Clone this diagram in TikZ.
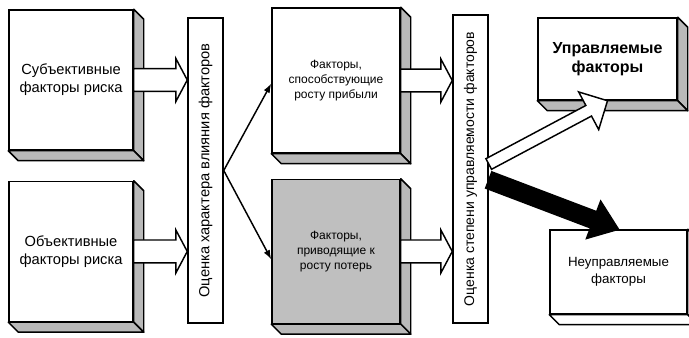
\documentclass[tikz,border=0pt]{standalone}
\usepackage{fontspec}
\setmainfont{Liberation Sans}
\usetikzlibrary{arrows.meta, positioning, calc}
\tikzset{
factor/.style={
    rectangle,
    draw,
    line width=1.1pt,
    fill=white,
    align=center,
    inner sep=2pt,
    font=\fontsize{11}{13.5}\selectfont
},
bar/.style={
    rectangle,
    draw,
    line width=1.1pt,
    fill=white,
    minimum width=26.25pt,
    inner sep=0pt
},
side/.style={draw, line width=1.1pt, line join=round},
block/.style={draw, line width=1.1pt, line join=miter}
}
% hollow/filled block arrow: fill, from, to, half shaft, half head, head length
\newcommand{\blockarrow}[6]{%
    \coordinate (ba-s) at (#2);
    \coordinate (ba-e) at (#3);
    \coordinate (ba-m) at ($(ba-e)!#6!(ba-s)$);
    \filldraw[block, fill=#1]
        ($(ba-s)!#4!90:(ba-e)$) -- ($(ba-m)!#4!-90:(ba-s)$) --
        ($(ba-m)!#5!-90:(ba-s)$) -- (ba-e) --
        ($(ba-m)!#5!90:(ba-s)$) -- ($(ba-m)!#4!90:(ba-s)$) --
        ($(ba-s)!#4!-90:(ba-e)$) -- cycle;
}

\begin{document}
\begin{tikzpicture}[
        x=0.75pt, y=-0.75pt,
        >={Latex[length=7pt, width=5pt]}
    ]
    \useasboundingbox (0,0) rectangle (689,338);

    % node placement
    \node[factor, minimum width=93pt, minimum height=105pt] (b1) at (71,80) {Субъективные\\факторы риска};
    \node[factor, minimum width=93pt, minimum height=105pt, below=22.5pt of b1] (b2) {Объективные\\факторы риска};

    \node[bar, minimum height=228.75pt, font=\fontsize{11}{13}\selectfont] (bar1) at (205.5,170.5)
        {\rotatebox{90}{Оценка характера влияния факторов}};

    \node[factor, minimum width=96pt, minimum height=108.75pt, font=\fontsize{9}{11.5}\selectfont] (b3) at (336,80.5)
        {Факторы,\\способствующие\\росту прибыли};
    \node[factor, minimum width=96pt, minimum height=108pt, fill=gray!50, font=\fontsize{9}{11.5}\selectfont, below=18.75pt of b3] (b4)
        {Факторы,\\приводящие к\\росту потерь};

    \node[bar, minimum height=231pt, font=\fontsize{10.5}{12}\selectfont] (bar2) at (470.5,169)
        {\rotatebox{90}{Оценка степени управляемости факторов}};

    \node[factor, minimum width=104.25pt, minimum height=61.5pt, font=\fontsize{12}{14.5}\selectfont\bfseries] (b5) at (607.5,59)
        {Управляемые\\факторы};
    \node[factor, minimum width=102.75pt, minimum height=63pt, font=\fontsize{10}{12.5}\selectfont] (b6) at (618.5,272)
        {Неуправляемые\\факторы};

    % box sides
    \foreach \n/\c in {b1/gray!55, b2/gray!55, b3/gray!55, b4/gray!55, b5/gray!55, b6/white} {
        \filldraw[side, fill=\c] (\n.north east) -- ++(10,10) -- ($(\n.south east)+(10,10)$) -- (\n.south east) -- cycle;
        \filldraw[side, fill=\c] (\n.south west) -- ++(10,10) -- ($(\n.south east)+(10,10)$) -- (\n.south east) -- cycle;
    }

    % edges
    \blockarrow{white}{b1.east}{b1.east -| bar1.west}{8.6pt}{16pt}{8.5pt}
    \blockarrow{white}{b2.east}{b2.east -| bar1.west}{8.6pt}{16pt}{8.5pt}
    \blockarrow{white}{b3.east}{b3.east -| bar2.west}{8.6pt}{16pt}{8.5pt}
    \blockarrow{white}{b4.east}{b4.east -| bar2.west}{8.6pt}{16pt}{8.5pt}

    \draw[->, line width=1.1pt] (bar1.east) -- ($(b3.west)+(0,3)$);
    \draw[->, line width=1.1pt] (bar1.east) -- ($(b4.west)+(0,8)$);

    \blockarrow{white}{$(bar2.east)+(0,-5)$}{b5.south}{4.5pt}{16pt}{16pt}
    \blockarrow{black}{$(bar2.east)+(0,11)$}{b6.north}{6.5pt}{15pt}{20pt}

    \end{tikzpicture}
\end{document}
